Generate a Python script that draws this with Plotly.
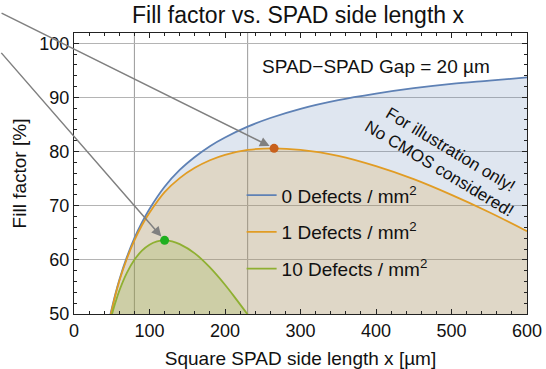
import plotly.graph_objects as go

# ---- data ----
x0 = [48, 55, 60, 70, 80, 90, 100, 120, 140, 160, 180, 200, 230, 260, 300, 350, 400, 450, 500, 550, 600]
ff0 = [49.8, 53.8, 56.3, 60.5, 64.0, 66.9, 69.4, 73.5, 76.6, 79.0, 81.0, 82.6, 84.6, 86.2, 87.9, 89.5, 90.7, 91.7, 92.5, 93.1, 93.7]

x1 = [48.5, 55, 60, 70, 80, 90, 100, 120, 140, 160, 180, 200, 230, 265, 300, 350, 400, 450, 500, 550, 600]
ff1 = [49.8, 53.6, 56.1, 60.2, 63.6, 66.4, 68.7, 72.5, 75.1, 77.0, 78.4, 79.4, 80.3, 80.6, 80.3, 79.2, 77.3, 74.9, 72.0, 68.8, 65.3]

x10 = [50, 55, 60, 70, 80, 90, 100, 110, 120, 130, 140, 160, 180, 200, 215, 230]
ff10 = [49.8, 52.2, 54.3, 57.6, 60.0, 61.7, 62.8, 63.4, 63.6, 63.4, 62.9, 61.2, 58.6, 55.4, 52.7, 49.9]

peak_x = [265, 120]
peak_y = [80.6, 63.6]
peak_colors = ["#c8601c", "#1fb01f"]

guide_x = [80, 230]
series_names = ["0 Defects / mm<sup>2</sup>", "1 Defects / mm<sup>2</sup>", "10 Defects / mm<sup>2</sup>"]
line_colors = ["#5e81b5", "#e19c24", "#8fb032"]
fill_colors = ["rgba(94,129,181,0.2)", "rgba(225,156,36,0.2)", "rgba(143,176,50,0.22)"]

FONT = "Liberation Sans, Arial, sans-serif"

fig = go.Figure()
# filled areas (no legend)
for xs, ys, fc in zip([x0, x1, x10], [ff0, ff1, ff10], fill_colors):
    fig.add_trace(go.Scatter(
        x=xs, y=ys, mode="lines", showlegend=False, hoverinfo="skip",
        line=dict(width=0, shape="spline", smoothing=1.0),
        fill="tozeroy", fillcolor=fc,
    ))
# curves
for xs, ys, name, lc in zip([x0, x1, x10], [ff0, ff1, ff10], series_names, line_colors):
    fig.add_trace(go.Scatter(
        x=xs, y=ys, mode="lines", name=name, legendgroup=name,
        line=dict(color=lc, width=1.8, shape="spline", smoothing=1.0),
    ))

fig.add_trace(go.Scatter(
    x=peak_x, y=peak_y, mode="markers", showlegend=False,
    marker=dict(color=peak_colors, size=9, line=dict(width=0)),
))

for gx in guide_x:
    fig.add_shape(type="line", xref="x", yref="paper", x0=gx, x1=gx, y0=0, y1=1,
                  line=dict(color="#999999", width=1), layer="below")

# arrows pointing to the optimum points
fig.add_annotation(x=peak_x[0], y=peak_y[0], xref="x", yref="y", text="",
                   showarrow=True, ax=-274, ay=-136, arrowhead=2, arrowsize=1.3,
                   arrowwidth=1.5, arrowcolor="#808080", standoff=5)
fig.add_annotation(x=peak_x[1], y=peak_y[1], xref="x", yref="y", text="",
                   showarrow=True, ax=-165, ay=-189, arrowhead=2, arrowsize=1.3,
                   arrowwidth=1.5, arrowcolor="#808080", standoff=5)

fig.add_annotation(x=400, y=95.7, xref="x", yref="y", text="SPAD\u2212SPAD Gap = 20 \u00b5m",
                   showarrow=False, font=dict(family=FONT, size=19, color="#111111"))
fig.add_annotation(x=492, y=78.6, xref="x", yref="y",
                   text="For illustration only!<br>No CMOS considered!",
                   showarrow=False, textangle=31, align="center",
                   font=dict(family=FONT, size=17, color="#111111"))

fig.update_layout(
    width=546, height=369,
    margin=dict(l=74, r=19, t=33, b=55),
    paper_bgcolor="white", plot_bgcolor="white",
    font=dict(family=FONT, size=18, color="#111111"),
    title=dict(text="Fill factor vs. SPAD side length x", x=(298 / 546), xanchor="center",
               y=1 - 15 / 369, yanchor="middle", font=dict(family=FONT, size=23, color="#111111")),
    legend=dict(x=0.37, y=0.49, xanchor="left", yanchor="top", bgcolor="rgba(0,0,0,0)",
                font=dict(family=FONT, size=19, color="#111111"), tracegroupgap=9),
    showlegend=True,
)
fig.update_xaxes(
    range=[0, 600], dtick=100, tick0=0, showgrid=False, zeroline=False, automargin=False,
    showline=True, linecolor="#222222", linewidth=1, mirror="allticks",
    ticks="inside", ticklen=5, tickcolor="#222222",
    minor=dict(ticks="inside", dtick=20, ticklen=3, tickcolor="#222222", showgrid=False),
    title=dict(text="Square SPAD side length x [\u00b5m]", standoff=12, font=dict(size=19)),
    tickfont=dict(size=18),
)
fig.update_yaxes(
    range=[50, 101.9], dtick=10, tick0=50, showgrid=True, gridcolor="#b4b4b4", gridwidth=1,
    zeroline=False, showline=True, linecolor="#222222", linewidth=1, mirror="allticks",
    automargin=False,
    ticks="inside", ticklen=5, tickcolor="#222222",
    minor=dict(ticks="inside", dtick=2, ticklen=3, tickcolor="#222222", showgrid=False),
    title=dict(text="Fill factor [%]", standoff=7, font=dict(size=19)),
    tickfont=dict(size=18),
)

fig.write_html("out.html")
